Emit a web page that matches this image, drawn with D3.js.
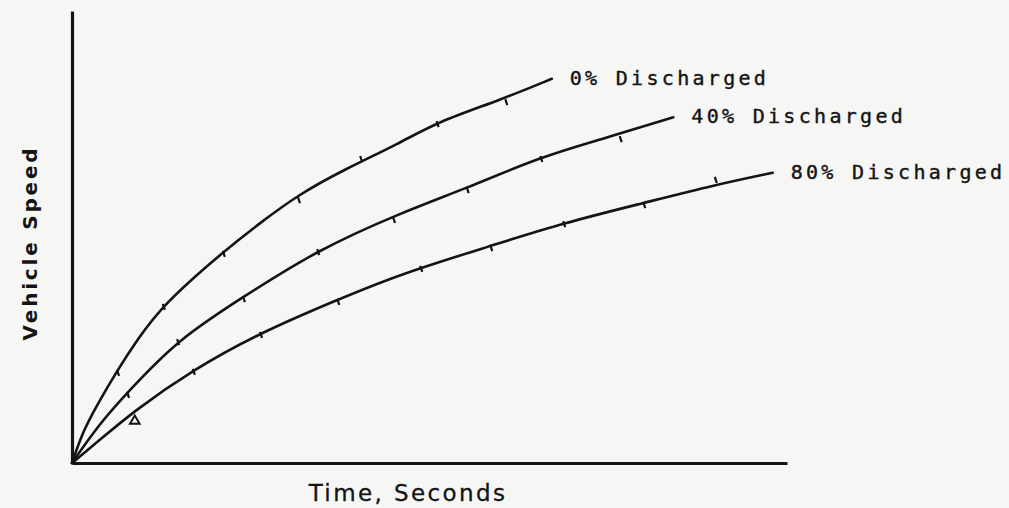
<!DOCTYPE html>
<html>
<head>
<meta charset="utf-8">
<script src="https://cdn.jsdelivr.net/npm/d3@7"></script>
<style>
	html, body { margin: 0; padding: 0; background: #f6f6f4; }
	svg { display: block; }
</style>
</head>
<body>
<svg id="chart" width="1009" height="508"></svg>
<script>
// curve data, time vs speed (relative units, the original has no tick values)
var series = ['0% Discharged', '40% Discharged', '80% Discharged'];

var curve0 = [[0, 0], [1.5, 6.9], [3.5, 12.8], [6.3, 20.4], [9.1, 27.2], [12.7, 35.0], [21.1, 46.7],
	[26.3, 53.1], [31.6, 59.3], [37.9, 64.8], [45.9, 70.8], [51.0, 75.4], [59.9, 80.3], [67.1, 85.0]];
var curve40 = [[0, 0], [3.9, 8.8], [7.7, 15.5], [14.7, 27.2], [23.9, 36.7], [34.3, 47.1], [45.9, 55.3],
	[55.2, 60.8], [65.5, 67.7], [73.8, 71.5], [84.1, 76.5]];
var curve80 = [[0, 0], [3.9, 5.1], [8.5, 11.3], [16.9, 20.6], [26.3, 28.8], [37.1, 36.1], [45.9, 41.8],
	[58.5, 48.0], [68.7, 53.1], [79.9, 57.5], [89.9, 61.5], [98.0, 64.2]];

// measured points marked along the curves
var points0 = [[6.3, 20.4], [12.7, 35.0], [21.1, 46.7], [31.6, 58.6], [40.3, 67.7], [51.0, 75.4], [60.6, 80.3]];
var points40 = [[7.7, 15.5], [14.7, 27.2], [23.9, 36.7], [34.3, 47.1], [44.9, 54.2], [55.2, 60.8], [65.5, 67.7], [76.6, 72.1]];
var points80 = [[8.5, 9.5], [16.9, 20.6], [26.3, 28.8], [37.1, 36.1], [48.7, 43.4], [58.5, 48.0], [68.7, 53.3], [79.9, 57.5], [89.9, 63.1]];

var xLabel = 'Time, Seconds';
var yLabel = 'Vehicle Speed';

var curves = [curve0, curve40, curve80];
var points = [points0, points40, points80];

var svg = d3.select('#chart');
var ink = '#141414';

var x = d3.scaleLinear().domain([0, 100]).range([72, 787]);
var y = d3.scaleLinear().domain([0, 100]).range([463, 11]);

// axes: plain lines, no ticks
var xAxis = d3.axisBottom(x).tickValues([]).tickSizeOuter(0);
var yAxis = d3.axisLeft(y).tickValues([]).tickSizeOuter(0);

svg.append('g').attr('transform', 'translate(0,' + y(0) + ')').call(xAxis)
	.select('.domain').attr('stroke', ink).attr('stroke-width', 3);
svg.append('g').attr('transform', 'translate(' + x(0) + ',0)').call(yAxis)
	.select('.domain').attr('stroke', ink).attr('stroke-width', 3.2);

// hand drawn curves are smooth, so a b-spline through the read points
var line = d3.line()
	.x(function (d) { return x(d[0]); })
	.y(function (d) { return y(d[1]); })
	.curve(d3.curveBasis);

svg.selectAll('path.curve').data(curves).enter().append('path')
	.classed('curve', true)
	.attr('d', line)
	.attr('fill', 'none')
	.attr('stroke', ink)
	.attr('stroke-width', 2.6)
	.attr('stroke-linecap', 'round');

// little hand-drawn flags at each measured point
points.forEach(function (pts, si)
{
	var g = svg.append('g');
	pts.forEach(function (p, i)
	{
		var px = x(p[0]), py = y(p[1]);
		if (si === 2 && i === 0)
		{
			// small triangle symbol off the curve
			g.append('path')
				.attr('d', d3.symbol().type(d3.symbolTriangle).size(40)())
				.attr('transform', 'translate(' + (px + 2) + ',' + (py + 1) + ')')
				.attr('fill', 'none').attr('stroke', ink).attr('stroke-width', 2);
			return;
		}
		g.append('line')
			.attr('x1', px).attr('y1', py - 1)
			.attr('x2', px + 2).attr('y2', py + 5)
			.attr('stroke', ink).attr('stroke-width', 2.2);
	});
});

// series labels at the end of each curve
svg.selectAll('text.series').data(series).enter().append('text')
	.classed('series', true)
	.attr('x', function (d, i) { var c = curves[i]; return x(c[c.length - 1][0]) + 18; })
	.attr('y', function (d, i) { var c = curves[i]; return y(c[c.length - 1][1]) + 6; })
	.attr('font-family', 'DejaVu Sans Mono, monospace')
	.attr('font-size', 20)
	.attr('letter-spacing', 3.3)
	.attr('fill', ink)
	.attr('stroke', ink)
	.attr('stroke-width', 0.4)
	.text(function (d) { return d; });

svg.append('text')
	.attr('x', 408).attr('y', 501)
	.attr('text-anchor', 'middle')
	.attr('font-family', 'DejaVu Sans, sans-serif')
	.attr('font-size', 23)
	.attr('letter-spacing', 2.4)
	.attr('fill', ink)
	.attr('stroke', ink)
	.attr('stroke-width', 0.3)
	.text(xLabel);

svg.append('text')
	.attr('transform', 'translate(37,243) rotate(-90)')
	.attr('text-anchor', 'middle')
	.attr('font-family', 'DejaVu Sans, sans-serif')
	.attr('font-weight', 'bold')
	.attr('font-size', 20)
	.attr('letter-spacing', 2.8)
	.attr('fill', ink)
	.text(yLabel);
</script>
</body>
</html>
